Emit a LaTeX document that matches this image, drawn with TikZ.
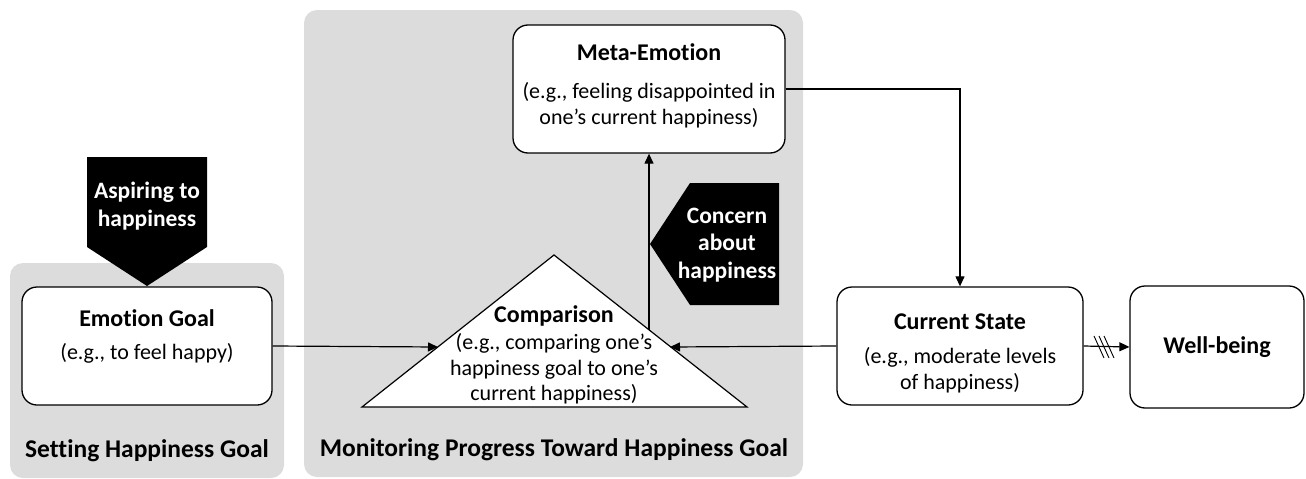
\documentclass[tikz,border=0pt]{standalone}
\usepackage{fontspec}
\setmainfont{Carlito}[Ligatures=NoCommon]
\usetikzlibrary{arrows.meta}
\definecolor{panelgray}{HTML}{DCDCDC}
\begin{document}
\begin{tikzpicture}[x=1pt,y=-1pt,
  panel/.style={fill=panelgray, rounded corners=13pt},
  box/.style={draw, fill=white, rounded corners=15pt, line width=1.3pt, rectangle},
  ttl/.style={font=\fontsize{24}{26}\selectfont\bfseries, align=center, inner sep=0pt},
  body/.style={font=\fontsize{22}{25.5}\selectfont, align=center, inner sep=0pt},
  wtxt/.style={font=\fontsize{23.5}{27.5}\selectfont\bfseries, text=white, align=center, inner sep=0pt},
  ptxt/.style={font=\fontsize{25.5}{28}\selectfont\bfseries, inner sep=0pt},
  arr/.style={-{Triangle[length=10pt,width=9pt]}, line width=1.2pt},
  ln/.style={line width=1.2pt}]
\useasboundingbox (0,0) rectangle (1306,479);
% panels
\fill[panel] (10,263) rectangle (284,478);
\fill[panel] (304,10) rectangle (803,477);
% boxes
\node[box, minimum width=250pt, minimum height=118pt] (emo) at (147,346) {};
\node[box, minimum width=272pt, minimum height=128pt] (meta) at (649,89) {};
\node[box, minimum width=246pt, minimum height=118pt] (cur) at (960,346) {};
\node[box, minimum width=174pt, minimum height=122pt] (well) at (1217,347) {};
% triangle
\draw[ln, fill=white] (554,255) -- (747,407) -- (362,407) -- cycle;
\coordinate (cmpL) at (438,347);
\coordinate (cmpR) at (670,347);
\coordinate (cmpT) at (649,330);
% black pentagons
\fill (87,157) -- (207,157) -- (207,247) -- (147,286) -- (87,247) -- cycle;
\fill (650,244) -- (690,183) -- (779,183) -- (779,305) -- (690,305) -- cycle;
% texts
\node[ttl] (emoT) at (147,318) {Emotion Goal};
\node[body] (emoB) at (147,353) {(e.g., to feel happy)};
\node[ttl] (metaT) at (649,52) {Meta-Emotion};
\node[body] (metaB) at (649,105) {(e.g., feeling disappointed in\\one’s current happiness)};
\node[ttl] (curT) at (960,322) {Current State};
\node[body] (curB) at (960,370) {(e.g., moderate levels\\of happiness)};
\node[ttl] (wellT) at (1217,347) {Well-being};
\node[ttl] (cmpT2) at (554,316) {Comparison};
\node[body] (cmpB) at (554,369) {(e.g., comparing one’s\\happiness goal to one’s\\current happiness)};
\node[wtxt] (asp) at (147,206) {Aspiring to\\happiness};
\node[wtxt] (conc) at (727,245) {Concern\\about\\happiness};
\node[ptxt] (set) at (147,451) {Setting Happiness Goal};
\node[ptxt] (mon) at (554,450) {Monitoring Progress Toward Happiness Goal};
% connectors
\draw[arr] (emo.east) -- (cmpL);
\draw[arr] (cur.west) -- (cmpR);
\draw[arr] (cmpT) -- (meta.south);
\draw[arr] (meta.east) -| (cur.north);
\draw[arr] (cur.east) -- (well.west);
\foreach \d in {0,5,10} \draw[line width=0.9pt] (1094+\d,336) -- (1104+\d,358);
\end{tikzpicture}
\end{document}
